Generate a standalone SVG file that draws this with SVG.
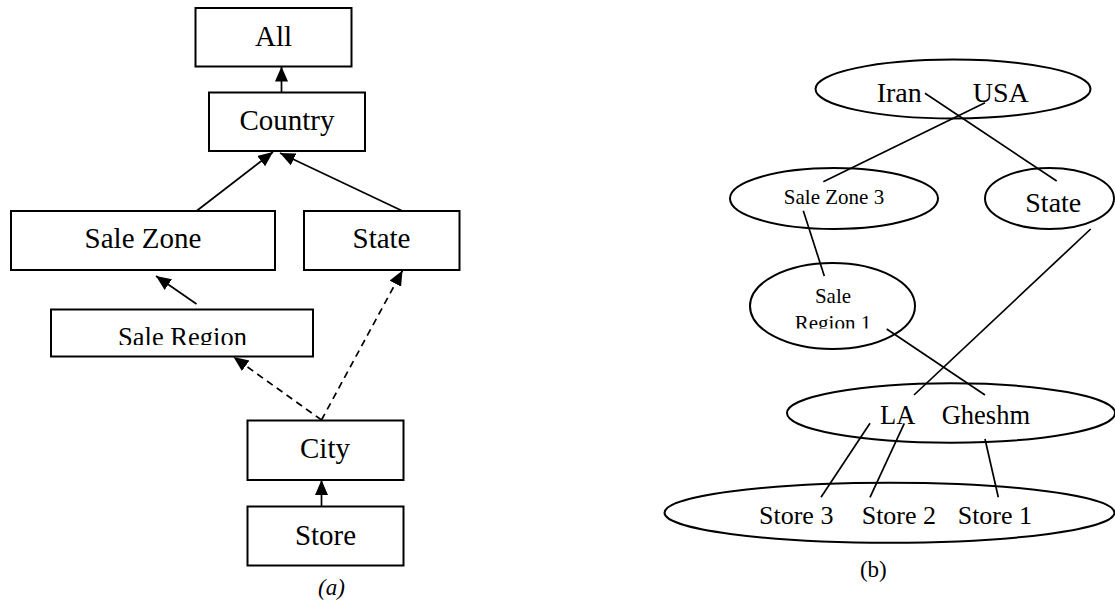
<svg xmlns="http://www.w3.org/2000/svg" width="1115" height="603" viewBox="0 0 1115 603">
<style>
  .box { fill: #fff; stroke: #000; stroke-width: 2; }
  .ell { fill: none; stroke: #000; stroke-width: 2; }
  text { font-family: 'Liberation Serif', 'Times New Roman', 'DejaVu Serif', serif; fill: #000; }
  .c { text-anchor: middle; }
  .ln { stroke: #000; stroke-width: 1.7; fill: none; }
  .arr { marker-end: url(#ah); }
  .dash { stroke-dasharray: 7 5; }
</style>
<defs>
  <marker id="ah" markerUnits="userSpaceOnUse" markerWidth="16" markerHeight="14" refX="15" refY="6.5" orient="auto">
    <path d="M0,0 L15,6.5 L0,13 z" fill="#000"/>
  </marker>
  <clipPath id="clipSR"><rect x="0" y="300" width="400" height="45"/></clipPath>
  <clipPath id="clipR1"><rect x="700" y="260" width="300" height="68.5"/></clipPath>
</defs>
<rect width="1115" height="603" fill="#fff"/>

<g font-family="Liberation Serif, Times New Roman, serif">
<!-- (a) hierarchy -->
<g id="all"><rect class="box" x="195.5" y="8" width="156" height="58.5"/><text class="c" x="273.5" y="46" font-size="29">All</text></g>
<g id="country"><rect class="box" x="209" y="92.5" width="156" height="58.5"/><text class="c" x="287" y="130" font-size="29">Country</text></g>
<g id="salezone"><rect class="box" x="11" y="211" width="264" height="59"/><text class="c" x="143" y="248" font-size="29">Sale Zone</text></g>
<g id="state"><rect class="box" x="304" y="211" width="155.5" height="59"/><text class="c" x="381.5" y="248" font-size="29">State</text></g>
<g id="saleregion"><rect class="box" x="51" y="309.5" width="262" height="47"/><text class="c" x="182.5" y="346" font-size="26.5" clip-path="url(#clipSR)">Sale Region</text></g>
<g id="city"><rect class="box" x="247.5" y="420.5" width="156" height="59.5"/><text class="c" x="325" y="458" font-size="29">City</text></g>
<g id="store"><rect class="box" x="247.5" y="506.5" width="156" height="59"/><text class="c" x="325.5" y="545" font-size="29">Store</text></g>
<g id="label-a"><text class="c" x="331.5" y="595" font-size="23" font-style="italic">(a)</text></g>

<g id="connectors-a">
  <line class="ln arr" x1="281.5" y1="92.5" x2="281.5" y2="66.5"/>
  <line class="ln arr" x1="196.5" y1="211" x2="273" y2="152"/>
  <line class="ln arr" x1="402.5" y1="211" x2="280" y2="153"/>
  <line class="ln arr" x1="196.5" y1="304" x2="156" y2="276"/>
  <line class="ln arr dash" x1="321.5" y1="420" x2="233.5" y2="357"/>
  <line class="ln arr dash" x1="321.5" y1="420" x2="402.5" y2="270.5"/>
  <line class="ln arr" x1="321.5" y1="506.5" x2="321.5" y2="480"/>
</g>

<!-- (b) instances -->
<g id="countries"><ellipse class="ell" cx="953" cy="89" rx="137.5" ry="29.5"/>
  <text x="876.7" y="101.7" font-size="28">Iran</text>
  <text x="972.7" y="101.7" font-size="28">USA</text></g>
<g id="salezone3"><ellipse class="ell" cx="834" cy="198.5" rx="104" ry="30.5"/>
  <text class="c" x="834" y="204.3" font-size="21">Sale Zone 3</text></g>
<g id="state-b"><ellipse class="ell" cx="1049.5" cy="198.5" rx="64.5" ry="30.5"/>
  <text class="c" x="1053.3" y="212.3" font-size="28">State</text></g>
<g id="saleregion1"><ellipse class="ell" cx="832.5" cy="306" rx="82.5" ry="43"/>
  <text class="c" x="833" y="302.7" font-size="21">Sale</text>
  <text class="c" x="833" y="330" font-size="21" clip-path="url(#clipR1)">Region 1</text></g>
<g id="cities"><ellipse class="ell" cx="951" cy="413" rx="164" ry="29.7"/>
  <text x="880" y="424" font-size="26.5">LA</text>
  <text x="941.7" y="424" font-size="26.5">Gheshm</text></g>
<g id="stores"><ellipse class="ell" cx="889.5" cy="512.7" rx="225" ry="30"/>
  <text x="759" y="524" font-size="26">Store 3</text>
  <text x="861.7" y="524" font-size="26">Store 2</text>
  <text x="957.7" y="524" font-size="26">Store 1</text></g>
<g id="label-b"><text class="c" x="873.3" y="577" font-size="23">(b)</text></g>

<g id="connectors-b">
  <line class="ln" x1="925" y1="93.3" x2="1056.7" y2="181"/>
  <line class="ln" x1="985" y1="102.7" x2="823.3" y2="181.7"/>
  <line class="ln" x1="803.3" y1="210.7" x2="824.3" y2="276"/>
  <line class="ln" x1="1090.7" y1="229" x2="914" y2="395"/>
  <line class="ln" x1="886.7" y1="329" x2="985" y2="395"/>
  <line class="ln" x1="870" y1="423.3" x2="821" y2="497.3"/>
  <line class="ln" x1="904.3" y1="423.3" x2="870" y2="497.3"/>
  <line class="ln" x1="985" y1="439" x2="998.3" y2="497.3"/>
</g>
</g>
</svg>
